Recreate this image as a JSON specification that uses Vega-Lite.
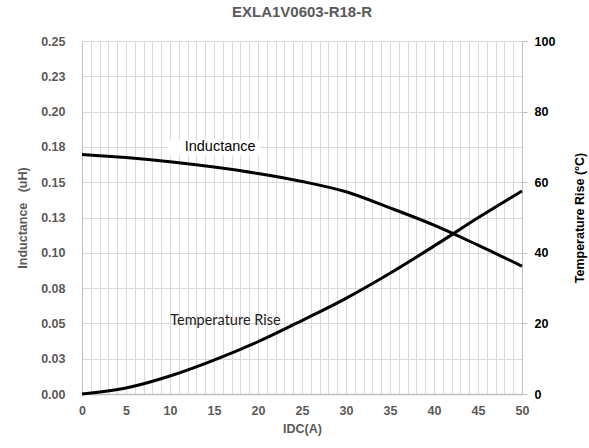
{
  "$schema": "https://vega.github.io/schema/vega-lite/v6.json",
  "width": 440,
  "height": 353,
  "autosize": "none",
  "padding": {"left": 82, "top": 41, "right": 67, "bottom": 54},
  "background": "white",
  "title": {"text": "EXLA1V0603-R18-R", "font": "Liberation Sans", "fontSize": 15, "fontWeight": "bold", "color": "#595959", "offset": 15, "anchor": "middle"},
  "config": {
    "view": {"stroke": null},
    "axis": {"labelFont": "Liberation Sans", "titleFont": "Liberation Sans", "labelFontSize": 12.5, "titleFontSize": 12.5, "labelFontWeight": "bold", "titleFontWeight": "bold", "gridColor": "#d9d9d9", "gridWidth": 1, "domainColor": "#bfbfbf", "tickColor": "#bfbfbf"}
  },
  "datasets": {
    "inductance": [
      {"idc": 0, "inductance": 0.1697},
      {"idc": 5, "inductance": 0.1675},
      {"idc": 10, "inductance": 0.1645},
      {"idc": 15, "inductance": 0.1607},
      {"idc": 20, "inductance": 0.1561},
      {"idc": 25, "inductance": 0.1505},
      {"idc": 30, "inductance": 0.1432},
      {"idc": 35, "inductance": 0.1318},
      {"idc": 40, "inductance": 0.1196},
      {"idc": 45, "inductance": 0.1054},
      {"idc": 50, "inductance": 0.0905}
    ],
    "temperature": [
      {"idc": 0, "temp": 0},
      {"idc": 5, "temp": 1.7},
      {"idc": 10, "temp": 5.1},
      {"idc": 15, "temp": 9.6},
      {"idc": 20, "temp": 14.8},
      {"idc": 25, "temp": 20.8},
      {"idc": 30, "temp": 27.1},
      {"idc": 35, "temp": 34.2},
      {"idc": 40, "temp": 41.9},
      {"idc": 45, "temp": 49.9},
      {"idc": 50, "temp": 57.5}
    ],
    "notes": [
      {"kind": "box", "idc": 9.8, "idc2": 20.2, "inductance": 0.169, "inductance2": 0.1803},
      {"kind": "label1", "label": "Inductance", "idc": 15.7, "inductance": 0.175},
      {"kind": "label2", "label": "Temperature Rise", "idc": 16.3, "temp": 20.6}
    ]
  },
  "encoding": {
    "x": {
      "field": "idc", "type": "quantitative",
      "scale": {"domain": [0, 50], "nice": false},
      "axis": {
        "values": [0,1,2,3,4,5,6,7,8,9,10,11,12,13,14,15,16,17,18,19,20,21,22,23,24,25,26,27,28,29,30,31,32,33,34,35,36,37,38,39,40,41,42,43,44,45,46,47,48,49,50],
        "labelExpr": "datum.value % 5 === 0 ? datum.label : ''",
        "grid": true, "ticks": false, "domain": true, "domainWidth": 1.5,
        "labelColor": "#595959", "labelPadding": 10, "labelFlush": false, "labelOverlap": false,
        "title": "IDC(A)", "titleColor": "#595959", "titlePadding": 6
      }
    }
  },
  "layer": [
    {
      "encoding": {
        "y": {
          "field": "inductance", "type": "quantitative",
          "scale": {"domain": [0, 0.25], "nice": false},
          "axis": {
            "orient": "left",
            "values": [0, 0.025, 0.05, 0.075, 0.1, 0.125, 0.15, 0.175, 0.2, 0.225, 0.25],
            "labelExpr": "format(datum.value + 1e-9, '.2f')",
            "grid": true, "ticks": false, "domain": true,
            "labelColor": "#595959", "labelPadding": 17, "labelOverlap": false,
            "title": "Inductance\u00a0\u00a0\u00a0(uH)", "titleColor": "#595959", "titlePadding": 11
          }
        }
      },
      "layer": [
        {
          "data": {"name": "notes"},
          "transform": [{"filter": "datum.kind === 'box'"}],
          "mark": {"type": "rect", "fill": "white"},
          "encoding": {"x2": {"field": "idc2"}, "y2": {"field": "inductance2"}}
        },
        {
          "data": {"name": "inductance"},
          "mark": {"type": "line", "color": "black", "strokeWidth": 3, "interpolate": "monotone"}
        },
        {
          "data": {"name": "notes"},
          "transform": [{"filter": "datum.kind === 'label1'"}],
          "mark": {"type": "text", "font": "Liberation Sans", "fontSize": 14.5, "color": "black"},
          "encoding": {"text": {"field": "label"}}
        }
      ]
    },
    {
      "encoding": {
        "y": {
          "field": "temp", "type": "quantitative",
          "scale": {"domain": [0, 100], "nice": false},
          "axis": {
            "orient": "right",
            "values": [0, 20, 40, 60, 80, 100],
            "grid": false, "ticks": true, "tickSize": 5, "domain": true,
            "labelColor": "black", "labelPadding": 7,
            "title": "Temperature Rise (°C)", "titleColor": "black", "titleAngle": 270, "titlePadding": 32
          }
        }
      },
      "layer": [
        {
          "data": {"name": "temperature"},
          "mark": {"type": "line", "color": "black", "strokeWidth": 3, "interpolate": "monotone"}
        },
        {
          "data": {"name": "notes"},
          "transform": [{"filter": "datum.kind === 'label2'"}],
          "mark": {"type": "text", "font": "Lato", "fontSize": 14.5, "color": "#222222"},
          "encoding": {"text": {"field": "label"}}
        }
      ]
    }
  ],
  "resolve": {"scale": {"y": "independent"}}
}
